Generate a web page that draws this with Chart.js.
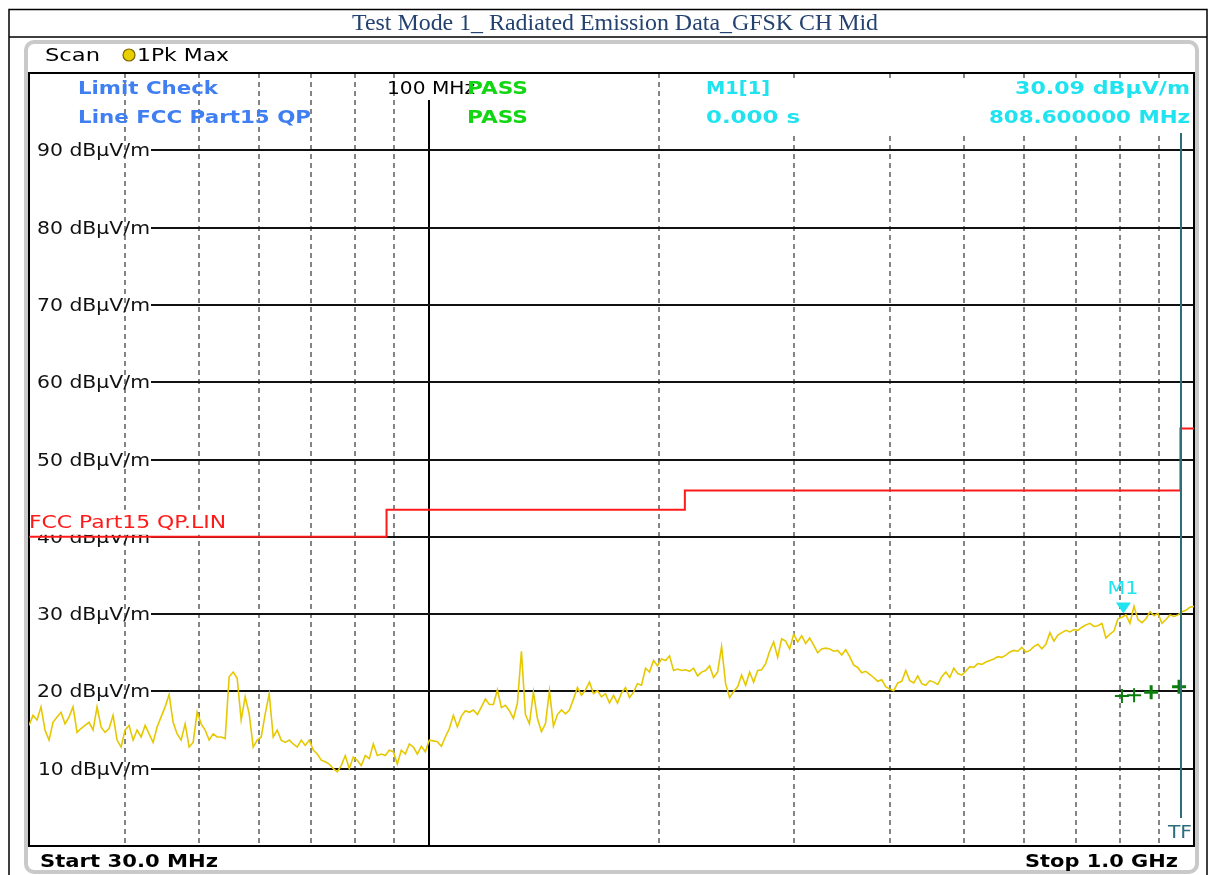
<!DOCTYPE html>
<html lang="en">
<head>
  <meta charset="UTF-8">
  <title>Test Mode 1_ Radiated Emission Data_GFSK CH Mid</title>
  <script src="https://cdn.jsdelivr.net/npm/chart.js@4.4.1/dist/chart.umd.min.js"></script>
  <style>
    body { margin: 0; background: #fff; }
    canvas { display: block; }
  </style>
</head>
<body>
<canvas id="myChart" width="1209" height="875"></canvas>

<script>
    // sweep of the analyser, MHz
    const sweepStart = 30;
    const sweepStop = 1000;

    // 1Pk Max trace (one reading every ~4 px across the sweep)
    const traceLevel = [
      15.6,16.9,16.3,18.0,15.0,13.7,16.0,16.7,17.3,15.8,
      16.7,18.0,14.7,15.2,15.6,16.0,15.0,18.0,15.4,14.7,
      15.2,16.9,13.7,12.8,15.0,15.6,13.7,15.0,14.1,15.6,
      14.5,13.4,15.4,16.7,18.0,19.6,16.0,14.5,13.7,15.8,
      12.8,13.4,17.3,15.8,15.0,13.7,14.5,14.1,14.1,
      13.9,21.9,22.5,21.7,16.3,19.3,17.1,12.8,13.7,14.1,
      17.1,19.7,14.1,15.0,13.7,13.4,13.7,13.2,12.8,13.7,
      13.0,13.7,12.4,11.9,11.1,10.9,10.6,10.0,9.6,10.4,
      11.7,10.0,11.5,11.1,10.4,11.7,11.3,13.2,11.7,11.9,
      11.7,12.4,12.2,10.6,12.4,11.9,13.2,12.8,11.9,
      12.9,12.2,13.7,13.6,13.5,12.9,14.1,15.2,16.9,15.4,
      16.8,17.5,17.3,17.6,17.0,18.0,19.0,18.3,18.3,20.2,
      17.9,18.2,17.5,16.5,18.5,25.2,17.0,15.8,19.9,16.5,
      14.8,15.8,20.1,15.5,17.0,17.6,17.1,17.6,19.0,20.5,
      19.5,20.2,21.2,19.7,20.1,19.3,19.7,
      18.5,19.5,18.5,19.8,20.5,19.2,19.9,21.0,20.8,23.0,
      22.5,24.0,23.3,24.2,24.0,24.6,22.7,22.9,22.7,22.8,
      22.6,23.0,22.0,22.5,22.7,23.3,21.8,22.5,25.8,21.0,
      19.2,20.0,20.6,22.1,20.8,22.5,21.2,22.7,22.8,23.6,
      25.2,26.4,24.4,26.8,26.5,25.5,27.4,26.4,27.2,
      26.2,26.9,26.0,25.0,25.5,25.6,25.5,25.2,25.3,24.7,
      25.4,24.5,23.4,23.1,22.4,22.6,22.2,21.8,21.3,21.5,
      20.6,20.3,20.1,21.1,21.3,22.7,21.4,21.1,22.0,21.0,
      20.8,21.4,21.2,20.9,21.9,22.5,21.8,23.0,22.3,22.1,
      22.6,23.2,23.1,23.6,23.5,23.8,24.0,24.2,
      24.5,24.4,24.7,25.1,25.3,25.2,25.7,25.1,25.3,25.8,
      26.1,25.5,26.1,27.6,26.5,27.3,27.6,27.9,27.7,28.0,
      27.9,28.3,28.6,28.8,28.4,28.5,28.8,26.9,27.4,27.8,
      29.4,29.6,29.9,28.8,31.0,29.3,28.9,29.4,30.3,29.8,
      30.1,28.8,29.3,29.9,29.7,29.9,30.3,30.5,30.9,31.0
    ];

    // FCC Part15 QP limit line, level holds from one frequency to the next
    const limitFreq = [30, 88, 216, 960, 1000];
    const limitLevel = [40, 43.5, 46, 54, 54];

    // final measurement crosses
    const finalFreq = [805, 835, 879, 956];
    const finalLevel = [19.4, 19.5, 19.9, 20.6];

    const markerName = 'M1';
    const markerFreq = 808.6;
    const markerLevel = 30.09;
    const tfFreq = 962;

    const yTicks = [10, 20, 30, 40, 50, 60, 70, 80, 90];
    const dashFreq = [40, 50, 60, 70, 80, 90, 200, 300, 400, 500, 600, 700, 800, 900];

    const titleText = 'Test Mode 1_ Radiated Emission Data_GFSK CH Mid';
    const RS = '"DejaVu Sans", sans-serif';
    const cyan = '#1fe3ef';

    // draw a string squeezed/stretched to sit between x0 and x1, caps centred on yc
    function fitText(ctx, s, x0, x1, yc, size, weight, color, family) {
        ctx.save();
        ctx.font = weight + ' ' + size + 'px ' + (family || RS);
        ctx.fillStyle = color;
        ctx.textBaseline = 'alphabetic';
        ctx.textAlign = 'left';
        const w = ctx.measureText(s).width;
        ctx.translate(x0, yc + size * 0.36);
        ctx.scale((x1 - x0) / w, 1);
        ctx.fillText(s, 0, 0);
        ctx.restore();
    }

    function line(ctx, x0, y0, x1, y1) {
        ctx.beginPath();
        ctx.moveTo(x0, y0);
        ctx.lineTo(x1, y1);
        ctx.stroke();
    }

    const screen = {
        id: 'screen',
        beforeDraw: (chart) => {
            const ctx = chart.ctx;
            const a = chart.chartArea;
            const xs = chart.scales.x;
            const ys = chart.scales.y;
            ctx.save();
            ctx.fillStyle = '#fff';
            ctx.fillRect(0, 0, chart.width, chart.height);

            // table frame and title row
            ctx.strokeStyle = '#000';
            ctx.lineWidth = 1.5;
            ctx.beginPath();
            ctx.moveTo(9, 875); ctx.lineTo(9, 9.5); ctx.lineTo(1207, 9.5); ctx.lineTo(1207, 875);
            ctx.moveTo(9, 37); ctx.lineTo(1207, 37);
            ctx.stroke();
            fitText(ctx, titleText, 352, 878, 22, 23, 'normal', '#24426f', '"Liberation Serif", serif');

            // analyser screen panel
            ctx.strokeStyle = '#c9c9c9';
            ctx.lineWidth = 4;
            ctx.beginPath();
            ctx.roundRect(26, 42, 1171, 830, 8);
            ctx.stroke();

            fitText(ctx, 'Scan', 45, 100, 55, 17, 'normal', '#000');
            ctx.beginPath();
            ctx.arc(129, 55, 6, 0, Math.PI * 2);
            ctx.fillStyle = '#e8cf00';
            ctx.fill();
            ctx.strokeStyle = '#7a6400';
            ctx.lineWidth = 1.2;
            ctx.stroke();
            fitText(ctx, '1Pk Max', 137, 229, 55, 17, 'normal', '#000');

            // vertical grid
            ctx.strokeStyle = '#5c5c5c';
            ctx.lineWidth = 1.5;
            ctx.setLineDash([5, 4]);
            dashFreq.forEach(f => {
                const x = Math.round(xs.getPixelForValue(f));
                line(ctx, x, a.top, x, a.bottom);
            });
            ctx.setLineDash([]);
            ctx.strokeStyle = '#000';
            ctx.lineWidth = 2;
            const x100 = Math.round(xs.getPixelForValue(100));
            line(ctx, x100, 100, x100, a.bottom);

            // horizontal grid with labels inside the plot
            yTicks.forEach(v => {
                const y = Math.round(ys.getPixelForValue(v));
                ctx.strokeStyle = '#111';
                ctx.lineWidth = 2;
                line(ctx, 151, y, a.right, y);
                fitText(ctx, v + ' dB\u00b5V/m', v === 10 ? 38 : 37, 150, y, 17, 'normal', '#111');
            });

            // header readouts
            ctx.fillStyle = '#fff';
            ctx.fillRect(700, 79, a.right - 700, 53);
            fitText(ctx, 'Limit Check', 78, 218, 88, 18, 'bold', '#3f7ff2');
            fitText(ctx, 'Line FCC Part15 QP', 78, 311, 117, 18, 'bold', '#3f7ff2');
            fitText(ctx, '100 MHz', 387, 475, 88, 17, 'normal', '#000');
            fitText(ctx, 'PASS', 467, 528, 88, 18, 'bold', '#12d612');
            fitText(ctx, 'PASS', 467, 528, 117, 18, 'bold', '#12d612');
            fitText(ctx, markerName + '[1]', 706, 770, 88, 18, 'bold', cyan);
            fitText(ctx, '0.000 s', 706, 800, 117, 18, 'bold', cyan);
            fitText(ctx, markerLevel.toFixed(2) + ' dB\u00b5V/m', 1015, 1190, 88, 18, 'bold', cyan);
            fitText(ctx, markerFreq.toFixed(6) + ' MHz', 989, 1190, 117, 18, 'bold', cyan);

            // plot border
            ctx.strokeStyle = '#000';
            ctx.lineWidth = 2;
            ctx.strokeRect(a.left, a.top, a.right - a.left, a.bottom - a.top);

            fitText(ctx, 'Start ' + sweepStart.toFixed(1) + ' MHz', 40, 218, 861, 18, 'bold', '#000');
            fitText(ctx, 'Stop ' + (sweepStop / 1000).toFixed(1) + ' GHz', 1025, 1178, 861, 18, 'bold', '#000');
            ctx.restore();
        },
        afterDatasetsDraw: (chart) => {
            const ctx = chart.ctx;
            const a = chart.chartArea;
            const xs = chart.scales.x;
            const ys = chart.scales.y;
            ctx.save();

            // limit line name, on a white patch
            const yl = ys.getPixelForValue(limitLevel[0]);
            ctx.fillStyle = '#fff';
            ctx.fillRect(a.left + 1, yl - 27, 198, 25);
            fitText(ctx, 'FCC Part15 QP.LIN', 29, 226, yl - 15, 17, 'normal', '#ff1a1a');

            // marker M1
            const mx = xs.getPixelForValue(markerFreq);
            const my = ys.getPixelForValue(markerLevel);
            ctx.fillStyle = cyan;
            ctx.beginPath();
            ctx.moveTo(mx - 7.5, my - 11);
            ctx.lineTo(mx + 7.5, my - 11);
            ctx.lineTo(mx, my);
            ctx.closePath();
            ctx.fill();
            fitText(ctx, markerName, mx - 16, mx + 15, my - 26, 18, 'normal', cyan);

            // TF line
            const tx = Math.round(xs.getPixelForValue(tfFreq));
            ctx.strokeStyle = '#2c6f7b';
            ctx.lineWidth = 2;
            line(ctx, tx, 133, tx, a.bottom - 28);
            fitText(ctx, 'TF', tx - 13, tx + 11, a.bottom - 14, 17, 'normal', '#2c6f7b');
            ctx.restore();
        }
    };

    const n = traceLevel.length;
    const tracePoints = traceLevel.map((v, i) => ({
        x: sweepStart * Math.pow(sweepStop / sweepStart, i / (n - 1)),
        y: v
    }));
    const limitPoints = limitFreq.map((f, i) => ({ x: f, y: limitLevel[i] }));
    const finalPoints = finalFreq.map((f, i) => ({ x: f, y: finalLevel[i] }));

    var ctx = document.getElementById('myChart');
    var myChart = new Chart(ctx, {
        type: 'scatter',
        data: {
            datasets: [{
                label: 'FCC Part15 QP',
                data: limitPoints,
                showLine: true,
                stepped: true,
                borderColor: '#ff1a1a',
                borderWidth: 2,
                pointRadius: 0
            }, {
                label: '1Pk Max',
                data: tracePoints,
                showLine: true,
                borderColor: '#e6c800',
                borderWidth: 1.6,
                pointRadius: 0,
                tension: 0
            }, {
                label: 'Final',
                data: finalPoints,
                pointStyle: 'cross',
                pointRadius: 7,
                borderColor: '#0b7d0b',
                borderWidth: [2, 2, 3, 3]
            }]
        },
        options: {
            responsive: false,
            animation: false,
            layout: { padding: { left: 29, right: 15, top: 73, bottom: 29 } },
            scales: {
                x: { type: 'logarithmic', min: sweepStart, max: sweepStop, display: false },
                y: { type: 'linear', min: 0, max: 100, display: false }
            },
            plugins: {
                legend: { display: false },
                tooltip: { enabled: false }
            }
        },
        plugins: [screen]
    });
</script>

</body>
</html>
